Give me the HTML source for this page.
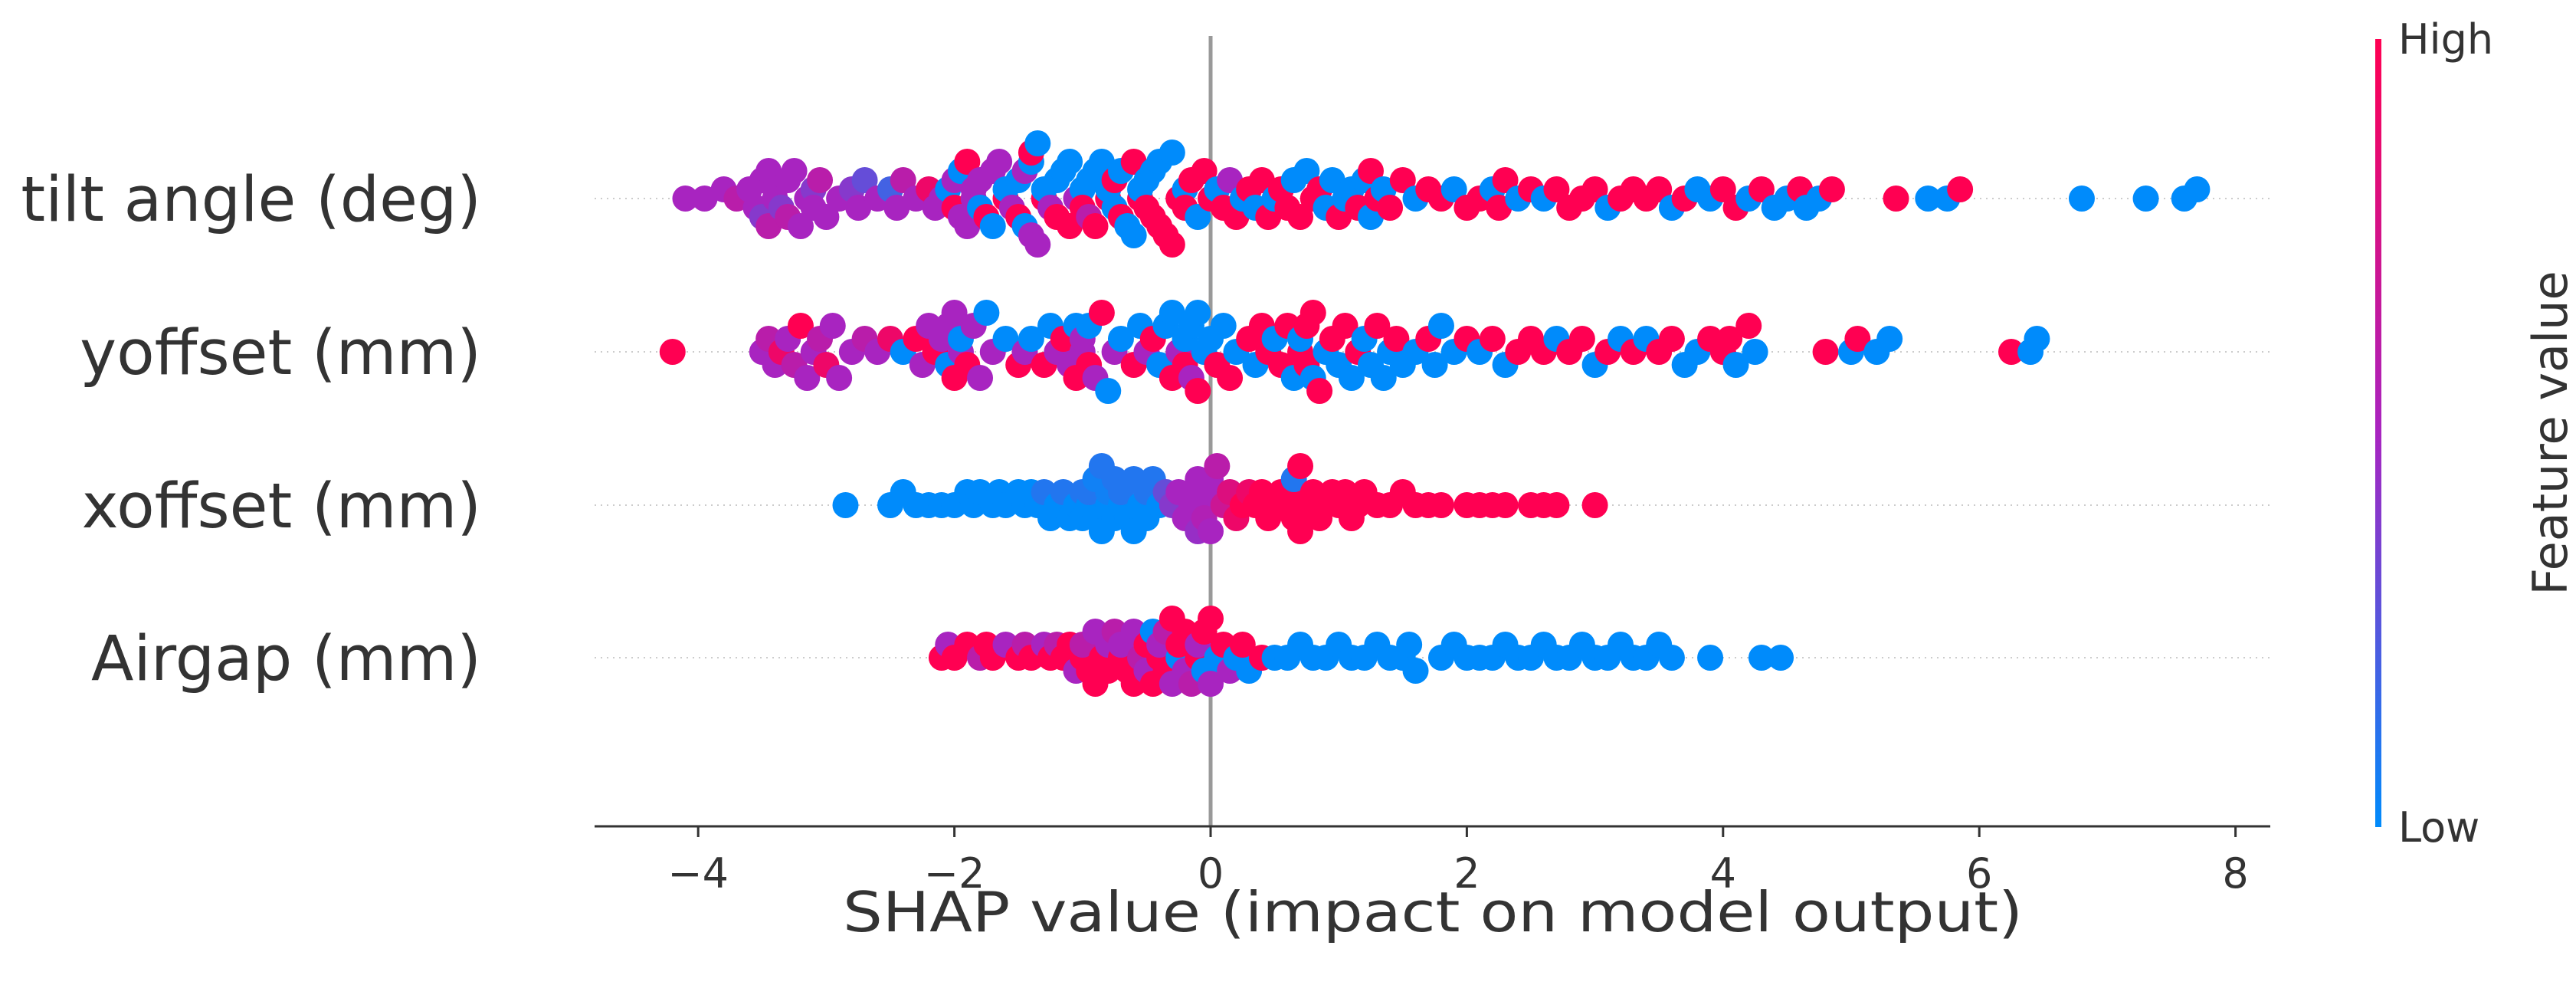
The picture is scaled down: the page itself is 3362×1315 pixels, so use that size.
<!DOCTYPE html>
<html><head><meta charset="utf-8"><style>
html,body{margin:0;padding:0;background:#fff;}
svg{display:block;font-family:"DejaVu Sans","Liberation Sans",sans-serif;}
</style></head><body>
<svg id="chart" width="3362" height="1315" viewBox="0 0 3362 1315" xmlns="http://www.w3.org/2000/svg">
<defs><linearGradient id="cb" x1="0" y1="1" x2="0" y2="0">
<stop offset="0" stop-color="rgb(0,139,251)"/><stop offset="0.5" stop-color="rgb(168,36,192)"/><stop offset="1" stop-color="rgb(255,0,82)"/></linearGradient></defs>
<g id="grid"></g>
<line x1="1580" y1="47" x2="1580" y2="1078" stroke="#999" stroke-width="5"/>
<g id="dots"></g>
<line x1="776" y1="1078" x2="2963" y2="1078" stroke="#333" stroke-width="3"/>
<g id="xticks"></g>
<g id="ylabels"></g>
<text x="1870" y="1215" font-size="72" fill="#333" text-anchor="middle" textLength="1540" lengthAdjust="spacingAndGlyphs">SHAP value (impact on model output)</text>
<rect x="3100" y="51" width="8" height="1028" fill="url(#cb)"/>
<text x="3130" y="70" font-size="54" fill="#333">High</text>
<text x="3130" y="1098" font-size="54" fill="#333">Low</text>
<text transform="translate(3350,565) rotate(-90)" font-size="62" fill="#333" text-anchor="middle">Feature value</text>
</svg>
<script>
const features = ["tilt angle (deg)","yoffset (mm)","xoffset (mm)","Airgap (mm)"];
const xTicks = [-4,-2,0,2,4,6,8];
const tiltShap = [-4.1,-3.95,-3.8,-3.7,-3.6,-3.55,-3.5,-3.5,-3.45,-3.45,-3.4,-3.4,-3.35,-3.3,-3.3,-3.25,-3.2,-3.15,-3.1,-3.1,-3.05,-3.0,-2.9,-2.8,-2.75,-2.7,-2.6,-2.5,-2.45,-2.4,-2.3,-2.2,-2.15,-2.1,-2.05,-2.0,-2.0,-1.95,-1.95,-1.9,-1.9,-1.85,-1.85,-1.8,-1.8,-1.75,-1.7,-1.7,-1.65,-1.6,-1.6,-1.55,-1.5,-1.5,-1.45,-1.45,-1.4,-1.4,-1.4,-1.35,-1.35,-1.3,-1.3,-1.25,-1.2,-1.2,-1.15,-1.1,-1.1,-1.05,-1.0,-1.0,-0.95,-0.95,-0.9,-0.9,-0.85,-0.8,-0.8,-0.75,-0.75,-0.7,-0.7,-0.65,-0.6,-0.6,-0.55,-0.55,-0.5,-0.5,-0.45,-0.45,-0.4,-0.4,-0.35,-0.3,-0.3,-0.25,-0.2,-0.2,-0.15,-0.1,-0.05,0.0,0.05,0.1,0.15,0.2,0.25,0.3,0.35,0.4,0.45,0.5,0.55,0.6,0.65,0.7,0.75,0.8,0.85,0.9,0.95,1.0,1.05,1.1,1.15,1.2,1.25,1.25,1.3,1.35,1.4,1.5,1.6,1.7,1.8,1.9,2.0,2.1,2.2,2.25,2.3,2.4,2.5,2.6,2.7,2.8,2.9,3.0,3.1,3.2,3.3,3.4,3.5,3.6,3.7,3.8,3.9,4.0,4.1,4.2,4.3,4.4,4.5,4.6,4.65,4.75,4.85,5.35,5.6,5.75,5.85,6.8,7.3,7.6,7.7];
const tiltFeat = [.5,.5,.5,.6,.5,.5,.5,.4,.5,.6,.5,.5,.4,.5,.6,.5,.5,.5,.4,.5,.6,.5,.5,.4,.5,.3,.5,.2,.5,.6,.5,.9,.5,.5,0,1,.5,.5,0,.5,1,.5,.5,0,.5,1,.5,0,.5,1,0,.5,0,1,.5,0,0,.5,1,.5,0,1,0,.5,0,1,0,1,0,.5,0,1,0,.6,0,1,0,1,0,0,1,1,0,0,1,0,1,0,1,0,1,0,1,0,1,0,1,1,0,1,1,0,1,1,0,1,.5,1,0,1,0,1,1,0,1,1,0,1,0,1,1,0,0,1,0,0,1,0,0,1,1,0,1,1,0,1,1,0,1,1,0,1,1,0,1,0,1,1,1,1,0,1,1,1,1,0,1,0,0,1,1,0,1,0,0,1,0,0,1,1,0,0,1,0,0,0,0];
const yoffShap = [-4.2,-3.5,-3.45,-3.4,-3.35,-3.3,-3.25,-3.2,-3.15,-3.1,-3.05,-3.0,-2.95,-2.9,-2.8,-2.7,-2.6,-2.5,-2.4,-2.3,-2.25,-2.2,-2.15,-2.1,-2.05,-2.05,-2.0,-2.0,-1.95,-1.95,-1.9,-1.85,-1.8,-1.75,-1.7,-1.6,-1.5,-1.45,-1.4,-1.3,-1.25,-1.2,-1.15,-1.1,-1.05,-1.05,-1.0,-1.0,-0.95,-0.95,-0.9,-0.85,-0.8,-0.75,-0.7,-0.6,-0.55,-0.5,-0.45,-0.4,-0.35,-0.3,-0.3,-0.25,-0.2,-0.2,-0.15,-0.15,-0.1,-0.1,-0.05,0.0,0.05,0.1,0.15,0.2,0.3,0.35,0.4,0.45,0.5,0.55,0.6,0.65,0.7,0.7,0.75,0.75,0.8,0.8,0.85,0.9,0.95,1.0,1.05,1.1,1.15,1.2,1.25,1.3,1.35,1.4,1.45,1.5,1.6,1.7,1.75,1.8,1.9,2.0,2.1,2.2,2.3,2.4,2.5,2.6,2.7,2.8,2.9,3.0,3.1,3.2,3.3,3.4,3.5,3.6,3.7,3.8,3.9,4.0,4.05,4.1,4.2,4.25,4.8,5.0,5.05,5.2,5.3,6.25,6.4,6.45];
const yoffFeat = [1,.5,.6,.5,.9,.5,.6,1,.5,.5,.6,.9,.5,.5,.5,.6,.5,.9,0,1,.5,.5,1,.5,0,.5,1,.5,.5,0,1,.5,.5,0,.5,0,1,.5,0,1,0,.5,1,.5,0,1,.5,.5,1,0,.5,1,0,.5,0,1,0,.5,1,0,0,1,0,.5,0,1,0,.5,0,1,0,0,1,0,1,0,1,0,1,1,0,1,1,0,1,0,1,1,0,1,1,0,1,0,1,0,1,0,0,1,0,0,1,0,0,1,0,0,0,1,0,1,0,1,1,1,0,1,1,0,1,0,1,0,1,1,0,0,1,1,1,0,1,0,1,0,1,0,0,1,0,0];
const xoffShap = [-2.85,-2.5,-2.4,-2.3,-2.2,-2.1,-2.0,-1.9,-1.85,-1.8,-1.7,-1.65,-1.6,-1.5,-1.45,-1.4,-1.35,-1.3,-1.25,-1.2,-1.15,-1.1,-1.05,-1.0,-1.0,-0.95,-0.95,-0.9,-0.9,-0.85,-0.85,-0.8,-0.8,-0.75,-0.75,-0.7,-0.7,-0.65,-0.6,-0.6,-0.55,-0.5,-0.5,-0.45,-0.4,-0.35,-0.3,-0.25,-0.2,-0.15,-0.15,-0.1,-0.1,-0.1,-0.05,-0.05,-0.05,0.0,0.0,0.05,0.1,0.15,0.2,0.25,0.3,0.35,0.4,0.45,0.5,0.55,0.6,0.6,0.65,0.65,0.7,0.7,0.75,0.8,0.85,0.9,0.95,1.0,1.05,1.1,1.15,1.2,1.3,1.4,1.5,1.6,1.7,1.8,2.0,2.1,2.2,2.3,2.5,2.6,2.7,3.0];
const xoffFeat = [0,0,0,0,0,0,0,0,0,0,0,0,0,0,0,0,0,.1,0,0,.1,0,0,.1,0,0,.1,0,.05,0,.1,0,.05,0,.1,0,.1,0,.1,0,0,.1,0,.1,0,.3,.4,.5,.5,.5,.5,.5,.5,.45,.5,.5,.55,.5,.5,.6,.7,.8,.9,1,.9,1,1,1,1,1,1,1,1,.1,1,1,1,1,1,1,1,1,1,1,1,1,1,1,1,1,1,1,1,1,1,1,1,1,1,1];
const airShap = [-2.1,-2.05,-2.0,-1.9,-1.8,-1.75,-1.7,-1.6,-1.5,-1.45,-1.4,-1.3,-1.25,-1.2,-1.15,-1.1,-1.05,-1.0,-1.0,-0.95,-0.9,-0.9,-0.85,-0.8,-0.8,-0.75,-0.7,-0.7,-0.65,-0.6,-0.6,-0.55,-0.5,-0.5,-0.45,-0.45,-0.4,-0.4,-0.35,-0.35,-0.3,-0.3,-0.25,-0.25,-0.2,-0.2,-0.15,-0.1,-0.1,-0.05,-0.05,0.0,0.0,0.05,0.1,0.15,0.2,0.25,0.3,0.4,0.5,0.6,0.7,0.8,0.9,1.0,1.1,1.2,1.3,1.4,1.5,1.55,1.6,1.8,1.9,2.0,2.1,2.2,2.3,2.4,2.5,2.6,2.7,2.8,2.9,3.0,3.1,3.2,3.3,3.4,3.5,3.6,3.9,4.3,4.45];
const airFeat = [1,.5,1,1,.6,1,1,.5,1,.6,1,.5,1,.6,1,1,.5,1,.6,1,.5,1,1,.5,1,.6,1,.5,1,.5,1,.6,1,.5,0,1,1,.5,1,.6,.5,1,0,1,.5,1,.6,1,.5,0,1,.5,1,0,1,.5,0,1,0,1,0,0,0,0,0,0,0,0,0,0,0,0,0,0,0,0,0,0,0,0,0,0,0,0,0,0,0,0,0,0,0,0,0,0,0];

const NS='http://www.w3.org/2000/svg';
const X0=1580, UNIT=167.2, ROW_Y=[259,459,659,858], ROW_H=200;
const xScale = v => X0 + v*UNIT;
function colorOf(f){
  if(f===undefined) f=0;
  const a=[0,139,251], m=[168,36,192], b=[255,0,82];
  let c;
  if(f<=0.5){const t=f/0.5;c=a.map((v,i)=>Math.round(v+(m[i]-v)*t));}
  else{const t=(f-0.5)/0.5;c=m.map((v,i)=>Math.round(v+(b[i]-v)*t));}
  return 'rgb('+c.join(',')+')';
}
const grid=document.getElementById('grid'), dots=document.getElementById('dots');
const xt=document.getElementById('xticks'), yl=document.getElementById('ylabels');
features.forEach((name,i)=>{
  const g=document.createElementNS(NS,'line');
  g.setAttribute('x1',776);g.setAttribute('x2',2963);g.setAttribute('y1',ROW_Y[i]);g.setAttribute('y2',ROW_Y[i]);
  g.setAttribute('stroke','#ccc');g.setAttribute('stroke-width','2');g.setAttribute('stroke-dasharray','2,6');
  
  
  grid.appendChild(g);
  const t=document.createElementNS(NS,'text');
  t.setAttribute('x',628);t.setAttribute('y',ROW_Y[i]+29);t.setAttribute('text-anchor','end');
  t.setAttribute('font-size','81');t.setAttribute('fill','#333');
  t.textContent=name;
  
  
  yl.appendChild(t);
});
xTicks.forEach(v=>{
  const l=document.createElementNS(NS,'line');
  l.setAttribute('x1',xScale(v));l.setAttribute('x2',xScale(v));l.setAttribute('y1',1078);l.setAttribute('y2',1092);
  l.setAttribute('stroke','#333');l.setAttribute('stroke-width','3');
  
  
  xt.appendChild(l);
  const t=document.createElementNS(NS,'text');
  t.setAttribute('x',xScale(v));t.setAttribute('y',1158);t.setAttribute('text-anchor','middle');
  t.setAttribute('font-size','54');t.setAttribute('fill','#333');
  t.textContent=(v<0?'\u2212'+(-v):String(v));
  
  
  xt.appendChild(t);
});
const series=[[tiltShap,tiltFeat],[yoffShap,yoffFeat],[xoffShap,xoffFeat],[airShap,airFeat]];
series.forEach(([s,f],row)=>{
  const n=s.length, mn=Math.min(...s), mx=Math.max(...s), nb=45;
  const q=s.map(v=>Math.round(nb*(v-mn)/(mx-mn)));
  const idx=[...Array(n).keys()].sort((a,b)=>q[a]-q[b]||a-b);
  const ys=new Array(n).fill(0); let layer=0,last=-1;
  idx.forEach(k=>{ if(q[k]!==last){layer=0;last=q[k];} ys[k]=Math.ceil(layer/2)*((layer%2)*2-1); layer++; });
  const m=Math.max(1,...ys.map(Math.abs));
  const sc=0.9*0.4*ROW_H/m;
  for(let k=0;k<n;k++){
    const c=document.createElementNS(NS,'circle');
    c.setAttribute('cx',xScale(s[k]));c.setAttribute('cy',ROW_Y[row]-ys[k]*Math.min(sc,17));
    c.setAttribute('r',17);c.setAttribute('fill',colorOf(f[k]));
    
    
    dots.appendChild(c);
  }
});
</script>
</body></html>
